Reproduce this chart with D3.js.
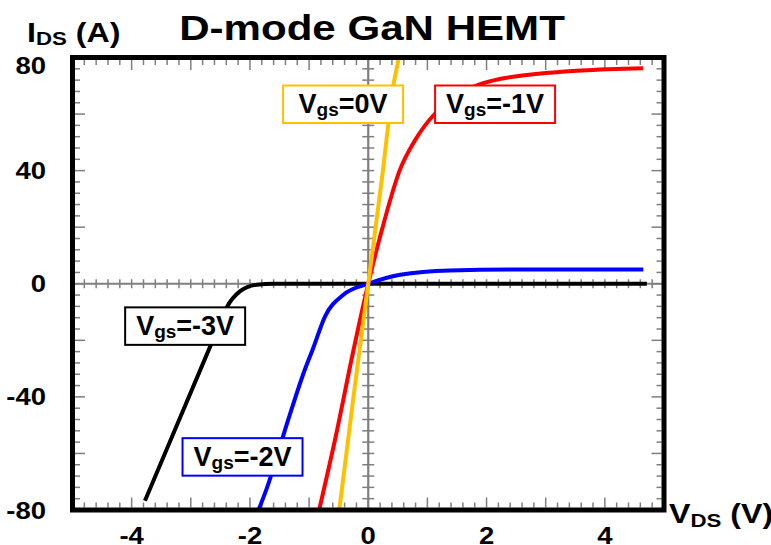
<!DOCTYPE html>
<html><head><meta charset="utf-8">
<script src="https://cdn.jsdelivr.net/npm/d3@7"></script>
<style>body{margin:0;background:#fff}svg{display:block}text{font-family:"Liberation Sans",Arial,sans-serif;font-weight:bold;fill:#000}</style>
</head><body><svg id="c" width="771" height="545"></svg>
<script>
// ---- data ----
const xTicks = [-4, -2, 0, 2, 4];
const yTicks = [80, 40, 0, -40, -80];
const vgs0 = [[-0.49,-80],[-0.25,-40],[0,0],[0.23,37],[0.43,70.7],[0.52,80]];
const vgsM1 = [[-0.83,-80],[-0.56,-55],[-0.25,-23.5],[0,0],[0.23,19],[0.53,40],[0.79,50.7],[1.13,60.2],[1.5,66.3],[1.83,70.1],[2.2,72.3],[2.6,73.6],[3.07,74.6],[3.6,75.4],[4.65,76.2]];
const vgsM2 = [[-1.855,-80],[-1.72,-72.6],[-1.35,-47.9],[-1.1,-32],[-0.93,-22.7],[-0.73,-11.5],[-0.42,-3.9],[0,0],[0.54,3.2],[1.38,4.7],[2.5,5],[4.65,5]];
const vgsM3 = [[-3.775,-76.7],[-3.3,-53.2],[-2.8,-28.5],[-2.5,-13.7],[-2.39,-8.3],[-2.17,-2.7],[-1.885,-0.35],[-1.6,0],[0,0],[4.71,0]];
const seriesNames = ["-3V", "-2V", "-1V", "0V"];
const seriesData = [vgsM3, vgsM2, vgsM1, vgs0];
const seriesColors = ["#000000", "#0000ff", "#ff0000", "#ffc000"];
// label boxes: [seriesIndex, left x (data), top y (data)]
const labelBoxes = [[3, -1.44, 70.1], [2, 1.13, 70.1], [0, -4.11, -8.35], [1, -3.14, -54.6]];

// ---- layout ----
const svg = d3.select("#c");
const L = 72.5, R = 664, T = 57.5, B = 510;
const x = d3.scaleLinear().domain([-5, 5]).range([L, R]);
const y = d3.scaleLinear().domain([-80, 80]).range([B, T]);
const grey = "#7f7f7f";
const SX = 1.17;

// frame ticks
const minorX = d3.range(-4.8, 5, 0.2).map(v => +v.toFixed(1));
const minorY = d3.range(-76, 80, 4);
const isMajX = v => Math.abs(v - Math.round(v)) < 1e-6;
const isMajY = v => v % 20 === 0;
const tk = svg.append("g").attr("stroke", grey).attr("stroke-width", 1.5);
const inner = 2.5;
minorX.forEach(v => {
  const len = isMajX(v) ? 10 : 5;
  tk.append("line").attr("x1", x(v)).attr("x2", x(v)).attr("y1", T + inner).attr("y2", T + inner + len);
  tk.append("line").attr("x1", x(v)).attr("x2", x(v)).attr("y1", B - inner).attr("y2", B - inner - len);
});
minorY.forEach(v => {
  const len = isMajY(v) ? 10 : 5;
  tk.append("line").attr("y1", y(v)).attr("y2", y(v)).attr("x1", L + inner).attr("x2", L + inner + len);
  tk.append("line").attr("y1", y(v)).attr("y2", y(v)).attr("x1", R - inner).attr("x2", R - inner - len);
});
// center axes
tk.append("line").attr("x1", L).attr("x2", R).attr("y1", y(0)).attr("y2", y(0)).attr("stroke-width", 2.2);
tk.append("line").attr("x1", x(0)).attr("x2", x(0)).attr("y1", T).attr("y2", B).attr("stroke-width", 2.2);
minorX.forEach(v => {
  tk.append("line").attr("x1", x(v)).attr("x2", x(v)).attr("y1", y(0) - 4.5).attr("y2", y(0) + 4.5);
});
minorY.forEach(v => {
  tk.append("line").attr("y1", y(v)).attr("y2", y(v)).attr("x1", x(0) - 6).attr("x2", x(0) + 6);
});

// curves
svg.append("clipPath").attr("id", "clip").append("rect").attr("x", L).attr("y", T).attr("width", R - L).attr("height", B - T);
const line = d3.line().x(d => x(d[0])).y(d => y(d[1])).curve(d3.curveMonotoneX);
const cg = svg.append("g").attr("clip-path", "url(#clip)");
seriesData.forEach((s, i) => {
  cg.append("path").attr("d", line(s)).attr("fill", "none").attr("stroke", seriesColors[i])
    .attr("stroke-width", 4).attr("stroke-linecap", "butt").attr("stroke-linejoin", "round");
});

// helper: text with subscript
function subText(g, parts, size, subSize, subDy, anchor) {
  const t = g.append("text").attr("text-anchor", anchor || "start").attr("font-size", size);
  parts.forEach(p => {
    const ts = t.append("tspan").text(p.t);
    if (p.sub) ts.attr("font-size", subSize).attr("dy", subDy);
    else if (p.back) ts.attr("dy", -subDy);
  });
  return t;
}

// label boxes
const BW = 120, BH = 37.5;
labelBoxes.forEach(([si, bx, by]) => {
  const g = svg.append("g");
  const px = x(bx), py = y(by);
  g.append("rect").attr("x", px).attr("y", py).attr("width", BW).attr("height", BH)
    .attr("fill", "#fff").attr("stroke", seriesColors[si]).attr("stroke-width", 2);
  const tg = g.append("g").attr("transform", `translate(${px + BW / 2},${py + 28})`);
  subText(tg, [{t: "V"}, {t: "gs", sub: true}, {t: "=" + seriesNames[si], back: true}], 27, 19, 3, "middle");
});

// frame
svg.append("rect").attr("x", L).attr("y", T).attr("width", R - L).attr("height", B - T)
  .attr("fill", "none").attr("stroke", "#000").attr("stroke-width", 5);

// tick labels
yTicks.forEach(v => {
  const cy = Math.max(y(v), T + 8);
  svg.append("g").attr("transform", `translate(46,${cy + 8.5}) scale(${SX},1)`)
    .append("text").attr("text-anchor", "end").attr("font-size", 23.5).text(v);
});
xTicks.forEach(v => {
  svg.append("g").attr("transform", `translate(${x(v)},543.5) scale(${SX},1)`)
    .append("text").attr("text-anchor", "middle").attr("font-size", 23.5).text(v);
});

// titles
svg.append("g").attr("transform", `translate(372,40) scale(1.22,1)`)
  .append("text").attr("text-anchor", "middle").attr("font-size", 34.5).text("D-mode GaN HEMT");
subText(svg.append("g").attr("transform", `translate(27,41.5) scale(${SX},1)`),
  [{t: "I"}, {t: "DS", sub: true}, {t: " (A)", back: true}], 27.5, 19, 3.5, "start");
subText(svg.append("g").attr("transform", `translate(669,523) scale(${SX},1)`),
  [{t: "V"}, {t: "DS", sub: true}, {t: " (V)", back: true}], 27.5, 19, 3.5, "start");
</script></body></html>
